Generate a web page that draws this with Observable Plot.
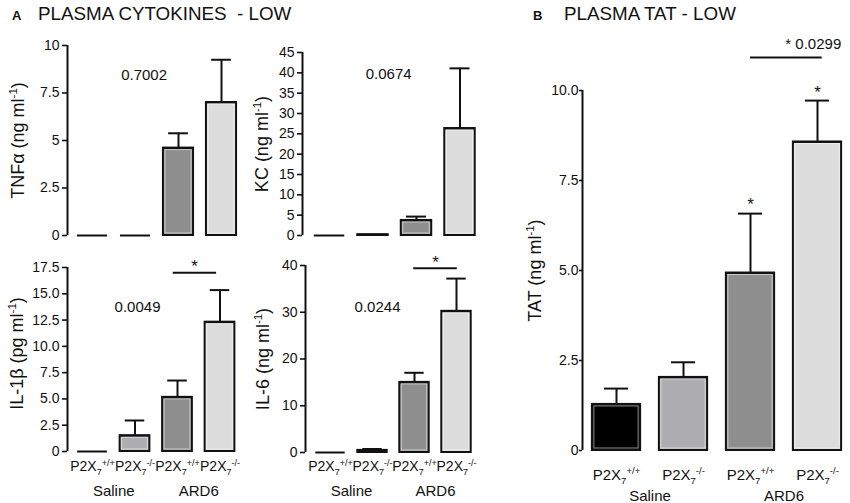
<!DOCTYPE html>
<html><head><meta charset="utf-8">
<script src="https://cdn.jsdelivr.net/npm/d3@7"></script>
<script src="https://cdn.jsdelivr.net/npm/@observablehq/plot@0.6"></script>
<style>
body{margin:0;background:#fff;font-family:"Liberation Sans",Arial,Helvetica,sans-serif;}
#fig{position:relative;width:850px;height:503px;overflow:hidden;background:#fff;color:#111;}
.ttl{position:absolute;font-size:18.8px;line-height:1;white-space:pre;}
.ltr{position:absolute;font-size:13px;font-weight:bold;line-height:1;}
.panel{position:absolute;}
</style></head><body>
<div id="fig">
  <div class="ltr" style="left:12px;top:9px">A</div>
  <div class="ttl" style="left:38px;top:5px">PLASMA CYTOKINES  - LOW</div>
  <div class="ltr" style="left:533px;top:9px">B</div>
  <div class="ttl" style="left:564px;top:5px">PLASMA TAT - LOW</div>
</div>
<script>
// ---- data ----
const groups = ["Saline", "Saline", "ARD6", "ARD6"];
const genotypes = ["P2X_{7}^{+/+}", "P2X_{7}^{-/-}", "P2X_{7}^{+/+}", "P2X_{7}^{-/-}"];
const fills = ["#000000", "#aeaeb2", "#8e8e8e", "#dcdcdc"];

const tnfMean = [0, 0, 4.6, 7.0];
const tnfSem  = [0, 0, 0.78, 2.25];
const kcMean  = [0, 0.2, 3.7, 26.3];
const kcSem   = [0, 0, 0.95, 14.8];
const il1bMean = [0, 1.5, 5.15, 12.3];
const il1bSem  = [0, 1.45, 1.6, 3.05];
const il6Mean  = [0, 0.45, 15.0, 30.2];
const il6Sem   = [0, 0.3, 2.05, 7.0];
const tatMean  = [1.28, 2.03, 4.93, 8.57];
const tatSem   = [0.44, 0.42, 1.65, 1.15];

const tnfTicks = [0, 2.5, 5, 7.5, 10];
const kcTicks = [0, 5, 10, 15, 20, 25, 30, 35, 40, 45];
const il1bTicks = [0, 2.5, 5, 7.5, 10, 12.5, 15, 17.5];
const il6Ticks = [0, 10, 20, 30, 40];
const tatTicks = [0, 2.5, 5, 7.5, 10];

const pTnf = "0.7002", pKc = "0.0674", pIl1b = "0.0049", pIl6 = "0.0244", pTat = "* 0.0299";

// ---- helpers ----
const FONT = '"Liberation Sans", Arial, Helvetica, sans-serif';
const fmt1 = d => d === 0 ? "0" : d.toFixed(1);

function rich(svg) {
  d3.select(svg).selectAll("text").each(function () {
    const s = this.textContent;
    if (!/[_^]\{/.test(s)) return;
    let fs = parseFloat(this.getAttribute("font-size"));
    if (!fs) { let p = this.parentNode; while (p && !fs) { fs = parseFloat(p.getAttribute && p.getAttribute("font-size")); p = p.parentNode; } }
    if (!fs) fs = 14;
    const parts = [];
    const re = /([_^])\{([^}]*)\}|([^_^]+)/g;
    let m;
    while ((m = re.exec(s))) {
      if (m[3] !== undefined) parts.push({type: "n", text: m[3]});
      else parts.push({type: m[1] === "_" ? "sub" : "sup", text: m[2]});
    }
    while (this.firstChild) this.removeChild(this.firstChild);
    let cur = 0;
    for (const p of parts) {
      const t = document.createElementNS("http://www.w3.org/2000/svg", "tspan");
      const target = p.type === "sub" ? 0.28 * fs : p.type === "sup" ? -0.42 * fs : 0;
      if (target !== cur) t.setAttribute("dy", (target - cur).toFixed(2));
      cur = target;
      if (p.type !== "n") t.setAttribute("font-size", (fs * 0.64).toFixed(1));
      t.textContent = p.text;
      this.appendChild(t);
    }
  });
}

function panel(o) {
  const rows = o.means.map((m, i) => ({i, mean: m, sem: o.sems[i], fill: fills[i], group: groups[i]}));
  const withErr = rows.filter(d => d.sem > 0);
  const marginLeft = o.axisX - o.left;
  const marginTop = o.topY - o.top;
  const marginBottom = o.top + o.height - o.zeroY;
  const lo = (o.axisX - o.c0) / o.sp;
  const hi = lo + (o.width - marginLeft) / o.sp;
  const groupRows = d3.rollups(rows, v => d3.mean(v, d => d.i), d => d.group).map(([name, x]) => ({name, x}));
  const marks = [
    Plot.rectY(rows.filter(d => d.mean > 0), {x1: d => d.i - o.barHalf, x2: d => d.i + o.barHalf, y1: 0, y2: "mean", fill: "fill", stroke: "#111", strokeWidth: 2}),
    Plot.ruleY(rows, {y: "mean", x1: d => d.i - o.barHalf, x2: d => d.i + o.barHalf, stroke: "#111", strokeWidth: 2}),
    Plot.rectY(rows.filter(d => d.mean > 0.5), {x1: d => d.i - o.barHalf, x2: d => d.i + o.barHalf, y1: 0, y2: "mean", fill: "none", stroke: "#fff", strokeOpacity: 0.55, strokeWidth: 1, inset: 2}),
    Plot.ruleX(withErr, {x: "i", y1: "mean", y2: d => d.mean + d.sem, stroke: "#111", strokeWidth: 2}),
    Plot.ruleY(withErr, {y: d => d.mean + d.sem, x1: d => d.i - o.capHalf, x2: d => d.i + o.capHalf, stroke: "#111", strokeWidth: 2}),
    Plot.ruleX([lo], {y1: 0, y2: o.yMax, stroke: "#111", strokeWidth: 2}),
    Plot.axisY({ticks: o.ticks, tickFormat: o.fmt, tickSize: o.tickSize ?? 5, tickPadding: o.tickPadding ?? 3, fontSize: 14, strokeWidth: 1.6, label: null}),
    Plot.text([o.ylabel], {text: d => d, frameAnchor: "left", rotate: -90, dx: o.labelDx, dy: o.labelDy || 0, fontSize: 18, textAnchor: "middle"})
  ];
  if (o.xlabels) {
    marks.push(Plot.axisX({ticks: [0, 1, 2, 3], tickFormat: i => genotypes[i], tickSize: 0, tickPadding: o.xPad, fontSize: o.xFont, label: null}));
    marks.push(Plot.text(groupRows, {x: "x", text: "name", frameAnchor: "bottom", lineAnchor: "top", dy: o.groupDy, fontSize: 15, fontWeight: "normal", fill: "#111", stroke: "none"}));
  }
  if (o.notes) marks.push(Plot.text(o.notes, {x: "x", y: "y", text: "t", fontSize: 15, textAnchor: o.noteAnchor || "middle"}));
  if (o.brackets) marks.push(Plot.ruleY(o.brackets, {y: "y", x1: "x1", x2: "x2", stroke: "#111", strokeWidth: 2}));
  if (o.stars) marks.push(Plot.text(o.stars, {x: "x", y: "y", text: () => "*", fontSize: 17, dy: 4}));
  const chart = Plot.plot({
    width: o.width, height: o.height,
    marginLeft, marginTop, marginBottom, marginRight: 0,
    style: {fontFamily: FONT, background: "transparent", overflow: "visible", color: "#111"},
    x: {type: "linear", domain: [lo, hi], range: [marginLeft, o.width], axis: o.xlabels ? undefined : null},
    y: {domain: [0, o.yMax], axis: null},
    color: {type: "identity"},
    marks
  });
  rich(chart);
  const wrap = document.createElement("div");
  wrap.className = "panel";
  wrap.style.left = o.left + "px";
  wrap.style.top = o.top + "px";
  wrap.appendChild(chart);
  document.getElementById("fig").appendChild(wrap);
}

panel({left: 0, top: 30, width: 250, height: 215, axisX: 67, zeroY: 235, topY: 45, yMax: 10,
  ticks: tnfTicks, fmt: d => String(d), c0: 92, sp: 43, barHalf: 0.35, capHalf: 0.23,
  means: tnfMean, sems: tnfSem, ylabel: "TNFα (ng ml^{-1})", labelDx: -49,
  notes: [{x: 1.2, y: 8.42, t: pTnf}]});

panel({left: 245, top: 30, width: 250, height: 215, axisX: 302, zeroY: 235, topY: 52, yMax: 45,
  ticks: kcTicks, fmt: d => String(d), c0: 329, sp: 43.5, barHalf: 0.35, capHalf: 0.23,
  means: kcMean, sems: kcSem, ylabel: "KC (ng ml^{-1})", labelDx: -40,
  notes: [{x: 1.36, y: 39.6, t: pKc}]});

panel({left: 0, top: 245, width: 250, height: 258, axisX: 67, zeroY: 451, topY: 267, yMax: 17.5,
  ticks: il1bTicks, fmt: fmt1, c0: 92, sp: 42.5, barHalf: 0.35, capHalf: 0.23,
  means: il1bMean, sems: il1bSem, ylabel: "IL-1β (pg ml^{-1})", labelDx: -50, labelDy: -6,
  xlabels: true, xPad: 10, xFont: 14, groupDy: 34,
  notes: [{x: 1.06, y: 13.7, t: pIl1b}],
  brackets: [{x1: 1.9, x2: 2.92, y: 17.0}],
  stars: [{x: 2.4, y: 18.0}]});

panel({left: 245, top: 245, width: 250, height: 258, axisX: 305, zeroY: 452, topY: 265, yMax: 40,
  ticks: il6Ticks, fmt: d => String(d), c0: 330, sp: 42, barHalf: 0.35, capHalf: 0.23,
  means: il6Mean, sems: il6Sem, ylabel: "IL-6 (ng ml^{-1})", labelDx: -42,
  xlabels: true, xPad: 9, xFont: 14, groupDy: 33,
  notes: [{x: 1.12, y: 31.0, t: pIl6}],
  brackets: [{x1: 1.98, x2: 3.02, y: 39.4}],
  stars: [{x: 2.5, y: 41.5}]});

panel({left: 520, top: 30, width: 330, height: 473, axisX: 582, zeroY: 450, topY: 90, yMax: 10,
  ticks: tatTicks, fmt: fmt1, tickSize: 3, tickPadding: 1, c0: 616, sp: 67, barHalf: 0.36, capHalf: 0.18,
  means: tatMean, sems: tatSem, ylabel: "TAT (ng ml^{-1})", labelDx: -47,
  xlabels: true, xPad: 19, xFont: 15, groupDy: 40,
  notes: [{x: 2.52, y: 11.3, t: pTat}], noteAnchor: "start",
  brackets: [{x1: 2.0, x2: 3.07, y: 10.92}],
  stars: [{x: 2, y: 6.94}, {x: 3, y: 10.06}]});
</script>
</body></html>
